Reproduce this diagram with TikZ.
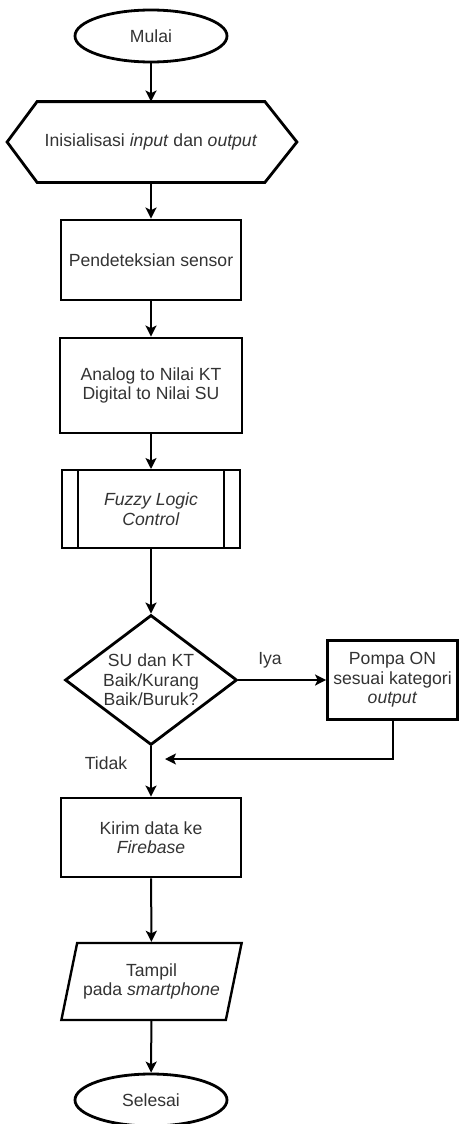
\documentclass[tikz,border=0pt]{standalone}
\usepackage{fontspec}
\setmainfont{Liberation Sans}
\usepackage{tikz}
\usetikzlibrary{arrows.meta,shapes.geometric}
\definecolor{textgray}{HTML}{333333}
\tikzstyle{Shape}=[draw=black, line width=1.4pt, text=textgray, align=center, inner sep=0pt, font=\fontsize{8.8pt}{9.8pt}\selectfont]
\tikzstyle{Process}=[Shape, rectangle]
\tikzstyle{Terminal}=[Shape, ellipse, minimum width=76pt, minimum height=26pt]
\tikzstyle{Decision}=[Shape, diamond, minimum width=86pt, minimum height=65pt]
\tikzstyle{Flow}=[line width=1pt, -{Stealth[length=5.5pt, width=5.5pt, inset=1.3pt]}]
\tikzstyle{Label}=[text=textgray, inner sep=0pt, font=\fontsize{8.8pt}{9.8pt}\selectfont]

\begin{document}
\begin{tikzpicture}[x=0.5pt, y=-0.5pt]
    \useasboundingbox (0,0) rectangle (459,1124);
    \path
    (151,36) node[Terminal] (mulai) {Mulai}
    (151,142) node[Shape, draw=none, minimum width=112.5pt, minimum height=39pt] (init) {Inisialisasi \textit{input} dan \textit{output}}
    (151,260) node[Process, minimum width=90pt, minimum height=40pt] (sensor) {Pendeteksian sensor}
    (151,385.5) node[Process, minimum width=91pt, minimum height=47.5pt] (analog) {Analog to Nilai KT\\Digital to Nilai SU}
    (151,509) node[Process, line width=1pt, minimum width=89pt, minimum height=39pt] (fuzzy) {\textit{Fuzzy Logic}\\\textit{Control}};

    \path
    (151,680) node[Decision] (dec) {}
    (151,680) node[Label, align=center] (tanya) {SU dan KT\\Baik/Kurang\\Baik/Buruk?}
    (392.5,680) node[Process, minimum width=65pt, minimum height=39.5pt] (pompa) {Pompa ON\\sesuai kategori\\\textit{output}}
    (151,837.5) node[Process, minimum width=90pt, minimum height=39.5pt] (kirim) {Kirim data ke\\\textit{Firebase}}
    (151.5,981.5) node[Shape, line width=1.2pt, trapezium, trapezium left angle=68, trapezium right angle=112, trapezium stretches=true, minimum width=90.5pt, minimum height=38.5pt] (tampil) {Tampil\\pada \textit{smartphone}}
    (151,1100) node[Terminal] (selesai) {Selesai};

    \path
    (270,660) node[Label] (iya) {Iya}
    (106,763) node[Label] (tidak) {Tidak};
    \coordinate (gabung) at (165,759);

    % hexagon and double sides
    \draw[line width=1.4pt] (init.north west) -- (init.north east) -- ([xshift=16pt]init.east) -- (init.south east) -- (init.south west) -- ([xshift=-15pt]init.west) -- cycle;
    \draw[line width=1pt] ([xshift=8.5pt]fuzzy.north west) -- ([xshift=8.5pt]fuzzy.south west);
    \draw[line width=1pt] ([xshift=-8.5pt]fuzzy.north east) -- ([xshift=-8.5pt]fuzzy.south east);

    \draw[Flow] (mulai) -- (init);
    \draw[Flow] (init) -- (sensor);
    \draw[Flow] (sensor) -- (analog);
    \draw[Flow] (analog) -- (fuzzy);
    \draw[Flow] (fuzzy) -- (dec.north);
    \draw[Flow] (dec.east) -- (pompa.west);
    \draw[Flow] (pompa.south) |- (gabung);
    \draw[Flow] (dec.south) -- (kirim);
    \draw[Flow] (kirim) -- (tampil);
    \draw[Flow] (tampil) -- (selesai);
\end{tikzpicture}
\end{document}
